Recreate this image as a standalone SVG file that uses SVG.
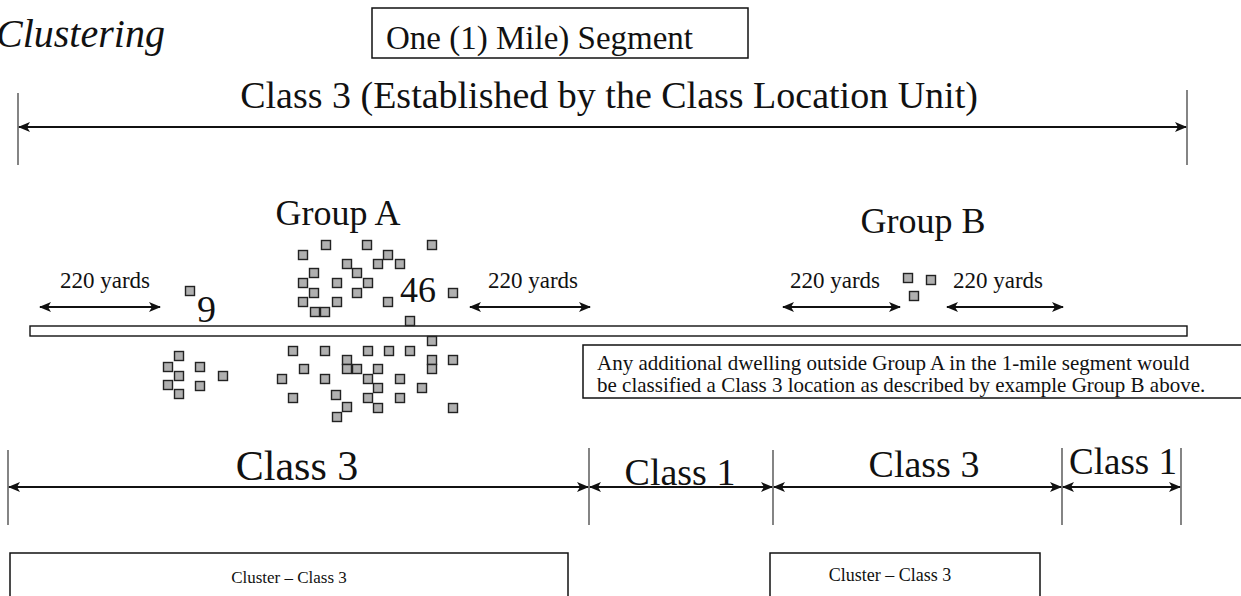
<svg xmlns="http://www.w3.org/2000/svg" xmlns:xlink="http://www.w3.org/1999/xlink" width="1241" height="596" viewBox="0 0 1241 596">
<style>
text{font-family:"Liberation Serif","Times New Roman",serif;fill:#111}
.tk{stroke:#333;stroke-width:1.2;fill:none}
.ar{stroke:#111;stroke-width:2;fill:none;marker-start:url(#ah);marker-end:url(#ah)}
.box{fill:#fff;stroke:#111;stroke-width:1.5}
.h{fill:#b0b0b0;stroke:#222;stroke-width:1.4}
</style>
<defs>
<marker id="ah" markerUnits="userSpaceOnUse" markerWidth="12" markerHeight="10" refX="11" refY="5" orient="auto-start-reverse">
<path d="M0,0 L12,5 L0,10 L3,5 z" fill="#111"/>
</marker>
<rect id="h" class="h" x="-4.5" y="-4.5" width="9" height="9"/>
</defs>

<g id="title">
<text x="-4" y="47" font-size="40" font-style="italic">Clustering</text>
</g>

<g id="segment-box">
<rect class="box" x="372" y="8" width="376" height="50"/>
<text x="386" y="49" font-size="33">One (1) Mile) Segment</text>
</g>

<g id="class3-established">
<text x="609" y="108" font-size="38" text-anchor="middle">Class 3 (Established by the Class Location Unit)</text>
</g>

<g id="road">
<rect x="30" y="326" width="1157" height="10" fill="#fff" stroke="#111" stroke-width="1.4"/>
</g>

<g id="group-a-label"><text x="338" y="225" font-size="36" text-anchor="middle">Group A</text></g>
<g id="group-b-label"><text x="923" y="233" font-size="36" text-anchor="middle">Group B</text></g>

<g id="yard-labels">
<text x="60" y="288" font-size="23">220 yards</text>
<text x="488" y="288" font-size="23">220 yards</text>
<text x="790" y="288" font-size="23">220 yards</text>
<text x="953" y="288" font-size="23">220 yards</text>
</g>

<g id="group-a-top">
<use href="#h" x="326" y="245"/><use href="#h" x="367" y="245"/><use href="#h" x="432" y="245"/>
<use href="#h" x="303" y="255"/><use href="#h" x="388" y="255"/>
<use href="#h" x="347" y="264"/><use href="#h" x="378" y="264"/><use href="#h" x="400" y="264"/>
<use href="#h" x="314" y="273"/><use href="#h" x="357" y="273"/>
<use href="#h" x="303" y="283"/><use href="#h" x="337" y="283"/><use href="#h" x="368" y="283"/>
<use href="#h" x="314" y="293"/><use href="#h" x="357" y="293"/><use href="#h" x="453" y="293"/>
<use href="#h" x="303" y="302"/><use href="#h" x="337" y="302"/><use href="#h" x="388" y="302"/>
<use href="#h" x="315" y="312"/><use href="#h" x="325" y="312"/>
<use href="#h" x="410" y="321"/>
<text x="400" y="302" font-size="36">46</text>
</g>

<g id="group-a-bottom">
<use href="#h" x="432" y="341"/>
<use href="#h" x="293" y="351"/><use href="#h" x="325" y="351"/><use href="#h" x="368" y="351"/><use href="#h" x="389" y="351"/><use href="#h" x="410" y="351"/>
<use href="#h" x="347" y="360"/><use href="#h" x="432" y="360"/><use href="#h" x="453" y="360"/>
<use href="#h" x="304" y="369"/><use href="#h" x="347" y="369"/><use href="#h" x="357" y="369"/><use href="#h" x="378" y="369"/><use href="#h" x="432" y="369"/>
<use href="#h" x="282" y="379"/><use href="#h" x="325" y="379"/><use href="#h" x="368" y="379"/><use href="#h" x="400" y="379"/>
<use href="#h" x="378" y="388"/><use href="#h" x="422" y="388"/>
<use href="#h" x="293" y="398"/><use href="#h" x="336" y="395"/><use href="#h" x="368" y="398"/><use href="#h" x="400" y="398"/>
<use href="#h" x="347" y="407"/><use href="#h" x="378" y="408"/><use href="#h" x="453" y="408"/>
<use href="#h" x="337" y="417"/>
</g>

<g id="left-cluster">
<use href="#h" x="190" y="291"/>
<text x="197" y="322" font-size="38">9</text>
<use href="#h" x="179" y="356"/>
<use href="#h" x="168" y="367"/><use href="#h" x="200" y="367"/>
<use href="#h" x="179" y="376"/><use href="#h" x="223" y="376"/>
<use href="#h" x="168" y="385"/><use href="#h" x="200" y="386"/>
<use href="#h" x="179" y="394"/>
</g>

<g id="group-b">
<use href="#h" x="908" y="278"/><use href="#h" x="931" y="280"/><use href="#h" x="914" y="296"/>
</g>

<g id="note-box">
<rect class="box" x="583" y="345" width="670" height="53"/>
<text x="597" y="370" font-size="21">Any additional dwelling outside Group A in the 1-mile segment would</text>
<text x="597" y="392" font-size="21">be classified a Class 3 location as described by example Group B above.</text>
</g>

<g id="class-labels">
<text x="297" y="480" font-size="42" text-anchor="middle">Class 3</text>
<text x="680" y="485" font-size="38" text-anchor="middle">Class 1</text>
<text x="924" y="477" font-size="38" text-anchor="middle">Class 3</text>
<text x="1123" y="474" font-size="37" text-anchor="middle">Class 1</text>
</g>

<g id="cluster-left">
<rect class="box" x="10" y="553" width="558" height="60"/>
<text x="289" y="583" font-size="17" text-anchor="middle">Cluster – Class 3</text>
</g>
<g id="cluster-right">
<rect class="box" x="770" y="553" width="270" height="60"/>
<text x="890" y="581" font-size="18" text-anchor="middle">Cluster – Class 3</text>
</g>

<g id="connectors">
<line class="tk" x1="18" y1="93" x2="18" y2="165"/>
<line class="tk" x1="1187" y1="90" x2="1187" y2="165"/>
<line class="ar" x1="19" y1="127" x2="1186" y2="127"/>

<line class="ar" x1="40" y1="307" x2="160" y2="307"/>
<line class="ar" x1="470" y1="307" x2="590" y2="307"/>
<line class="ar" x1="783" y1="307" x2="900" y2="307"/>
<line class="ar" x1="947" y1="307" x2="1063" y2="307"/>

<line class="tk" x1="8" y1="450" x2="8" y2="525"/>
<line class="tk" x1="589" y1="448" x2="589" y2="525"/>
<line class="tk" x1="773" y1="450" x2="773" y2="525"/>
<line class="tk" x1="1062" y1="448" x2="1062" y2="525"/>
<line class="tk" x1="1181" y1="448" x2="1181" y2="525"/>
<line class="ar" x1="9" y1="487" x2="588" y2="487"/>
<line class="ar" x1="590" y1="487" x2="772" y2="487"/>
<line class="ar" x1="774" y1="487" x2="1061" y2="487"/>
<line class="ar" x1="1063" y1="487" x2="1180" y2="487"/>
</g>
</svg>
